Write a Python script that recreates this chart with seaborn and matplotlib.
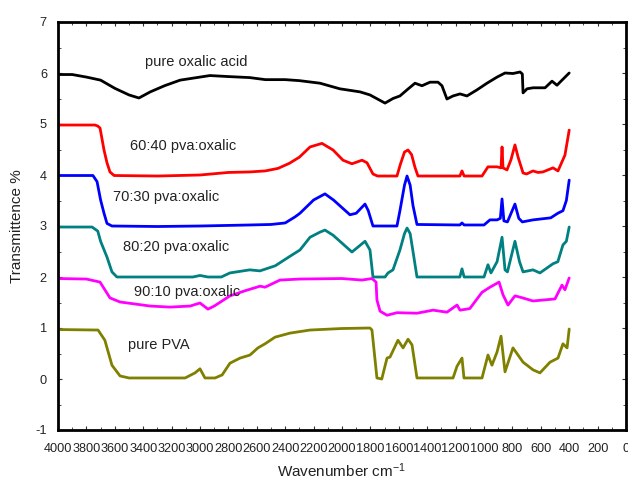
import numpy as np
import pandas as pd
import matplotlib
matplotlib.use("Agg")
import matplotlib.pyplot as plt
import seaborn as sns
from matplotlib.ticker import MultipleLocator

# ---- data ----
black_x = [4000, 3900, 3800, 3700, 3600, 3500, 3430, 3350, 3250, 3140, 3000, 2930, 2800, 2650, 2540,
           2400, 2300, 2155, 2015, 1873, 1803, 1697, 1641, 1592, 1542, 1486, 1437, 1380, 1324, 1296,
           1261, 1218, 1169, 1120, 1049, 979, 908, 852, 796, 746, 730, 725, 697, 655, 570, 521, 486, 465, 400]
black_y = [5.97, 5.97, 5.92, 5.86, 5.70, 5.57, 5.51, 5.63, 5.75, 5.86, 5.92, 5.95, 5.93, 5.91, 5.87,
           5.87, 5.85, 5.80, 5.69, 5.63, 5.57, 5.41, 5.50, 5.55, 5.67, 5.80, 5.75, 5.82, 5.82, 5.75,
           5.49, 5.55, 5.59, 5.55, 5.67, 5.80, 5.92, 6.00, 5.99, 6.02, 5.98, 5.61, 5.69, 5.71, 5.71, 5.84, 5.76, 5.82, 6.00]

red_x = [4000, 3740, 3720, 3704, 3676, 3655, 3634, 3605, 3300, 3000, 2800, 2650, 2540, 2450, 2370,
         2300, 2225, 2141, 2063, 1993, 1930, 1859, 1824, 1782, 1750, 1613, 1590, 1560, 1535, 1510,
         1486, 1465, 1170, 1155, 1140, 1014, 972, 940, 908, 880, 873, 866, 838, 810, 782, 760,
         725, 700, 655, 620, 585, 514, 479, 460, 430, 400]
red_y = [4.98, 4.98, 4.96, 4.92, 4.49, 4.24, 4.06, 3.99, 3.98, 4.00, 4.05, 4.06, 4.08, 4.13, 4.23,
         4.35, 4.55, 4.62, 4.49, 4.29, 4.22, 4.29, 4.24, 4.02, 3.98, 3.98, 4.20, 4.45, 4.49, 4.40,
         4.15, 3.98, 3.98, 4.08, 3.98, 3.98, 4.16, 4.16, 4.16, 4.14, 4.55, 4.14, 4.10, 4.30, 4.59, 4.35,
         4.04, 4.02, 4.08, 4.05, 4.06, 4.14, 4.08, 4.20, 4.39, 4.88]

blue_x = [4000, 3754, 3725, 3700, 3676, 3655, 3620, 3300, 3000, 2650, 2500, 2400, 2330, 2296, 2200,
          2120, 2060, 1944, 1900, 1838, 1815, 1782, 1613, 1592, 1560, 1542, 1520, 1500, 1472, 1170,
          1155, 1140, 1000, 958, 908, 885, 873, 860, 835, 782, 755, 730, 655, 530, 480, 444, 420, 400]
blue_y = [3.99, 3.99, 3.87, 3.51, 3.25, 3.05, 3.00, 2.99, 3.00, 3.02, 3.03, 3.06, 3.18, 3.25, 3.51,
          3.63, 3.51, 3.22, 3.25, 3.43, 3.30, 3.00, 3.00, 3.30, 3.80, 3.98, 3.80, 3.40, 3.03, 3.02,
          3.06, 3.02, 3.02, 3.12, 3.12, 3.15, 3.53, 3.10, 3.08, 3.43, 3.15, 3.08, 3.12, 3.16, 3.25, 3.30, 3.50, 3.90]

teal_x = [4000, 3760, 3720, 3700, 3655, 3620, 3585, 3050, 3000, 2944, 2850, 2789, 2650, 2578, 2470,
          2370, 2296, 2225, 2155, 2120, 2063, 1930, 1838, 1803, 1782, 1697, 1676, 1641, 1592, 1560,
          1542, 1520, 1500, 1472, 1170, 1155, 1140, 1000, 972, 951, 908, 873, 852, 835, 782, 750,
          725, 655, 606, 514, 480, 444, 420, 400]
teal_y = [2.98, 2.98, 2.90, 2.70, 2.39, 2.10, 2.00, 2.00, 2.03, 2.00, 2.00, 2.08, 2.14, 2.12, 2.22,
          2.40, 2.53, 2.78, 2.88, 2.92, 2.82, 2.49, 2.70, 2.53, 2.00, 2.00, 2.08, 2.14, 2.53, 2.85,
          2.96, 2.85, 2.50, 2.00, 2.00, 2.16, 2.00, 2.00, 2.24, 2.08, 2.30, 2.78, 2.14, 2.10, 2.70, 2.30,
          2.10, 2.14, 2.08, 2.26, 2.30, 2.63, 2.70, 2.98]

mag_x = [4000, 3800, 3704, 3634, 3563, 3350, 3211, 3070, 3000, 2944, 2900, 2789, 2683, 2577, 2542,
         2437, 2296, 2000, 1859, 1789, 1760, 1754, 1732, 1683, 1613, 1472, 1359, 1261, 1190, 1169,
         1100, 1014, 958, 894, 866, 831, 782, 740, 655, 500, 451, 430, 400]
mag_y = [1.97, 1.96, 1.90, 1.59, 1.51, 1.43, 1.41, 1.43, 1.49, 1.37, 1.43, 1.63, 1.73, 1.82, 1.80,
         1.94, 1.96, 1.97, 1.94, 1.97, 1.90, 1.55, 1.33, 1.25, 1.30, 1.29, 1.35, 1.31, 1.45, 1.35,
         1.38, 1.70, 1.80, 1.90, 1.65, 1.45, 1.63, 1.60, 1.53, 1.57, 1.84, 1.75, 1.98]

olive_x = [4000, 3718, 3670, 3620, 3563, 3500, 3105, 3035, 3000, 2965, 2894, 2844, 2789, 2718, 2648,
           2592, 2542, 2472, 2366, 2225, 2000, 1803, 1789, 1754, 1720, 1683, 1662, 1606, 1570, 1535,
           1507, 1472, 1218, 1190, 1155, 1141, 1014, 972, 944, 908, 880, 852, 796, 725, 655, 606,
           535, 479, 444, 415, 400]
olive_y = [0.97, 0.96, 0.76, 0.27, 0.06, 0.02, 0.02, 0.12, 0.20, 0.02, 0.02, 0.08, 0.31, 0.41, 0.47,
           0.61, 0.69, 0.82, 0.90, 0.96, 0.99, 1.00, 0.96, 0.02, 0.00, 0.41, 0.43, 0.76, 0.61, 0.78,
           0.67, 0.02, 0.02, 0.25, 0.41, 0.02, 0.02, 0.47, 0.27, 0.53, 0.84, 0.14, 0.61, 0.33, 0.18, 0.12,
           0.33, 0.41, 0.69, 0.61, 0.98]

series_names = ["pure oxalic acid", "60:40 pva:oxalic", "70:30 pva:oxalic",
                "80:20 pva:oxalic", "90:10 pva:oxalic", "pure PVA"]
series_colors = ["#000000", "#ff0000", "#0000ff", "#008080", "#ff00ff", "#808000"]
label_x = [3390, 3495, 3615, 3545, 3465, 3510]
label_y = [6.22, 4.57, 3.57, 2.59, 1.71, 0.67]

xs = [black_x, red_x, blue_x, teal_x, mag_x, olive_x]
ys = [black_y, red_y, blue_y, teal_y, mag_y, olive_y]

frames = []
for name, x, y in zip(series_names, xs, ys):
    frames.append(pd.DataFrame({"wn": x, "T": y, "sample": name}))
df = pd.concat(frames, ignore_index=True)

sns.set_style("ticks")
plt.rcParams["font.family"] = ["Liberation Sans", "DejaVu Sans"]
plt.rcParams["mathtext.fontset"] = "custom"
plt.rcParams["mathtext.rm"] = "Liberation Sans"
plt.rcParams["mathtext.default"] = "regular"
plt.rcParams["axes.unicode_minus"] = False

fig = plt.figure(figsize=(6.28, 4.87), dpi=100)
ax = fig.add_axes([58 / 628, 57 / 487, 568 / 628, 408 / 487])

sns.lineplot(data=df, x="wn", y="T", hue="sample", hue_order=series_names,
             palette=dict(zip(series_names, series_colors)), estimator=None,
             sort=False, linewidth=2.0, legend=False, ax=ax)

for name, lx, ly in zip(series_names, label_x, label_y):
    ax.text(lx, ly, name, fontsize=10.5, ha="left", va="center", color="#222222")

ax.set_xlim(4000, 0)
ax.set_ylim(-1, 7)
ax.xaxis.set_major_locator(MultipleLocator(200))
ax.xaxis.set_minor_locator(MultipleLocator(100))
ax.yaxis.set_major_locator(MultipleLocator(1))
ax.yaxis.set_minor_locator(MultipleLocator(0.5))
ax.tick_params(which="both", direction="in", top=True, right=True, labelsize=9.2,
               colors="#333333", labelcolor="#222222")
ax.tick_params(which="major", length=3, width=0.8)
ax.tick_params(which="minor", length=2, width=0.6)
ax.tick_params(axis="x", pad=9)
ax.tick_params(axis="y", pad=8)
for s in ax.spines.values():
    s.set_linewidth(2.0)
    s.set_color("black")

ax.set_xlabel("Wavenumber cm$^{-1}$", fontsize=11, labelpad=5, color="#222222")
ax.set_ylabel("Transmittence %", fontsize=11, labelpad=8, color="#222222")

fig.savefig("out.png", dpi=100)
